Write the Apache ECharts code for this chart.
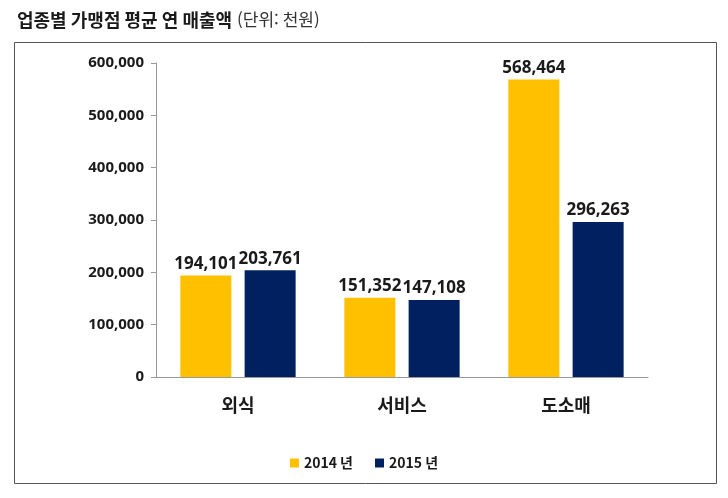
<!DOCTYPE html>
<html lang="ko">
<head>
  <meta charset="UTF-8">
  <title>업종별 가맹점 평균 연 매출액</title>
  <script src="https://cdn.jsdelivr.net/npm/echarts@6/dist/echarts.min.js"></script>
  <style>
    html, body { margin: 0; padding: 0; background: #fff; }
    #main { width: 728px; height: 498px; }
  </style>
</head>
<body>
  <div id="main"></div>
  <script>
    var categories = ['외식', '서비스', '도소매'];
    var seriesNames = ['2014 년', '2015 년'];
    var sales2014 = [194101, 151352, 568464];
    var sales2015 = [203761, 147108, 296263];

    var font = '"Noto Sans CJK KR", "Noto Sans", sans-serif';
    var numFont = '"Noto Sans", sans-serif';
    var chart = echarts.init(document.getElementById('main'));

    function barLabel() {
      return {
        show: true,
        position: 'top',
        distance: 3,
        color: '#1a1a1a',
        fontFamily: numFont,
        fontWeight: 'bold',
        fontSize: 17,
        formatter: function (p) { return p.value.toLocaleString('en-US'); }
      };
    }

    chart.setOption({
      animation: false,
      title: {
        left: 12,
        top: 6,
        text: '{b|업종별 가맹점 평균 연 매출액} {n|(단위: 천원)}',
        textStyle: {
          rich: {
            b: { fontFamily: font, fontWeight: 'bold', fontSize: 18, color: '#1a1a1a' },
            n: { fontFamily: font, fontWeight: 'normal', fontSize: 17, color: '#333' }
          }
        }
      },
      graphic: [{
        type: 'rect',
        shape: { x: 14.5, y: 42.5, width: 702, height: 441 },
        style: { fill: 'none', stroke: '#555', lineWidth: 1 },
        silent: true
      }],
      legend: {
        data: seriesNames,
        left: 'center',
        top: 451,
        itemWidth: 9,
        itemHeight: 9,
        itemGap: 22,
        icon: 'rect',
        textStyle: { fontFamily: font, fontWeight: 'bold', fontSize: 14, color: '#1a1a1a' }
      },
      grid: { left: 156, right: 80, top: 63, bottom: 121, containLabel: false },
      xAxis: {
        type: 'category',
        data: categories,
        axisLine: { lineStyle: { color: '#999' } },
        axisTick: { show: false },
        axisLabel: {
          margin: 19,
          fontFamily: font,
          fontWeight: 'bold',
          fontSize: 18,
          color: '#1a1a1a'
        }
      },
      yAxis: {
        type: 'value',
        min: 0,
        max: 600000,
        interval: 100000,
        axisLine: { show: true, lineStyle: { color: '#999' } },
        axisTick: { show: true, length: 5, lineStyle: { color: '#999' } },
        splitLine: { show: false },
        axisLabel: {
          margin: 12,
          fontFamily: numFont,
          fontWeight: 'bold',
          fontSize: 15,
          color: '#1a1a1a',
          formatter: function (v) { return v.toLocaleString('en-US'); }
        }
      },
      series: [
        {
          name: seriesNames[0],
          type: 'bar',
          data: sales2014,
          barWidth: 51,
          barGap: '26%',
          itemStyle: { color: '#FFC000' },
          label: barLabel()
        },
        {
          name: seriesNames[1],
          type: 'bar',
          data: sales2015,
          barWidth: 51,
          itemStyle: { color: '#002060' },
          label: barLabel()
        }
      ]
    });
  </script>
</body>
</html>
